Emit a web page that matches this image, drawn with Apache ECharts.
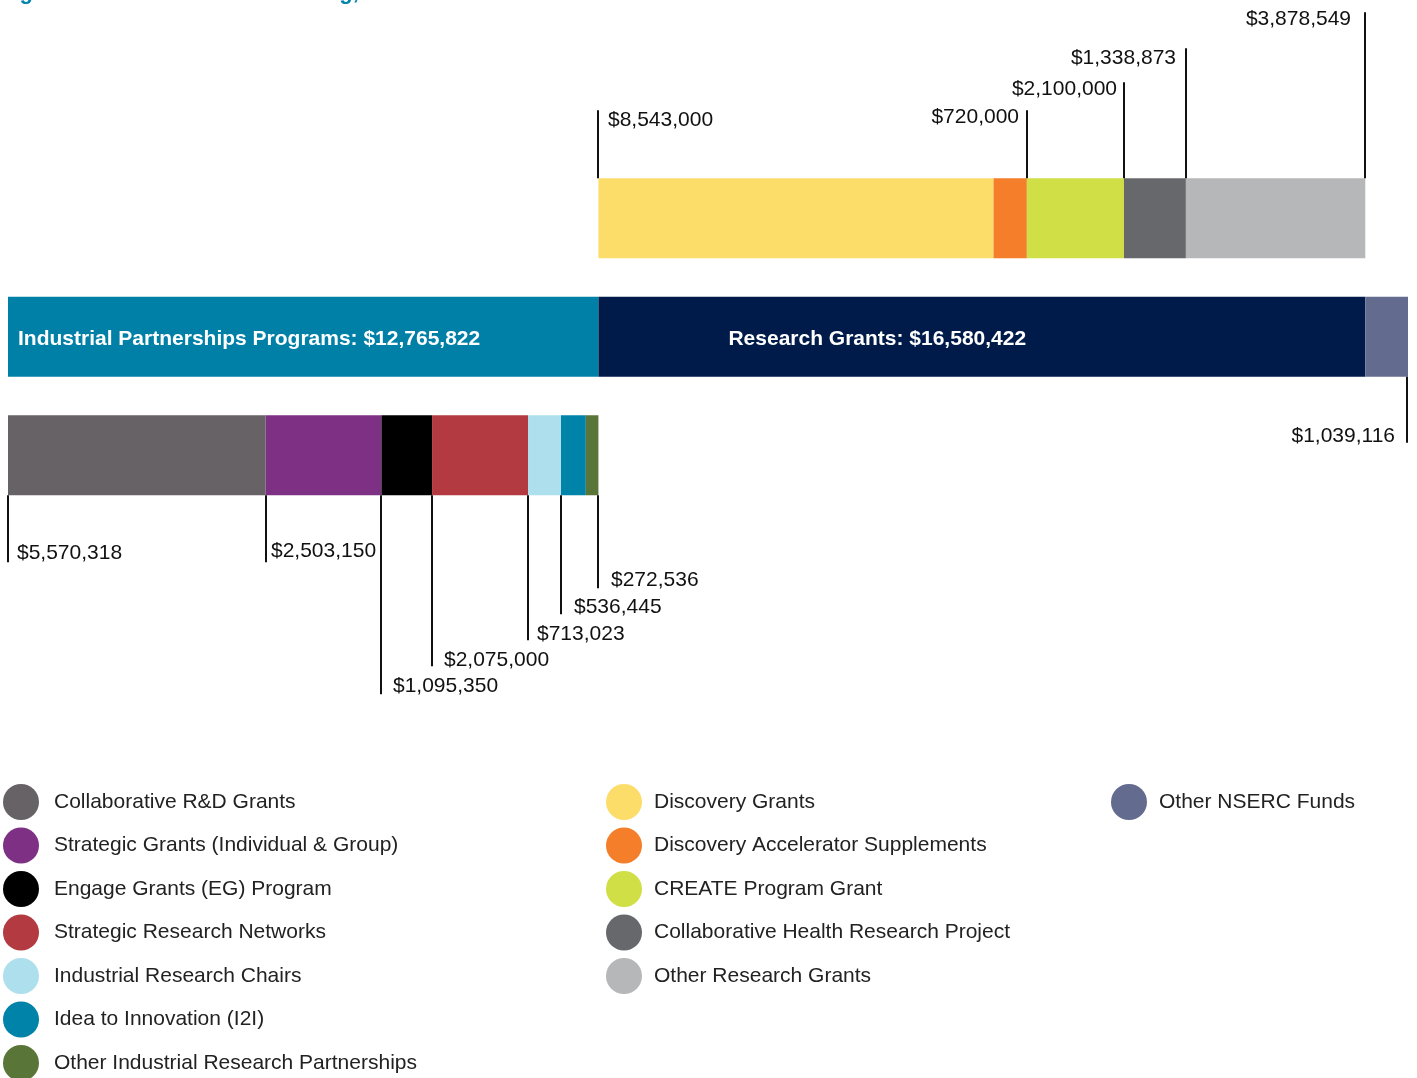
<!DOCTYPE html>
<html>
<head>
<meta charset="utf-8">
<script src="https://cdn.jsdelivr.net/npm/echarts@6/dist/echarts.min.js"></script>
<style>html,body{margin:0;padding:0;background:#fff;}#chart{width:1417px;height:1078px;}</style>
</head>
<body>
<div id="chart"></div>
<script>
// ---- data ----
const rowCategories = ['Research Grants detail', 'Total', 'Industrial Partnerships detail'];

const industrialNames = ['Collaborative R&D Grants', 'Strategic Grants (Individual & Group)', 'Engage Grants (EG) Program',
  'Strategic Research Networks', 'Industrial Research Chairs', 'Idea to Innovation (I2I)', 'Other Industrial Research Partnerships'];
const industrialValues = [5570318, 2503150, 1095350, 2075000, 713023, 536445, 272536];

const researchNames = ['Discovery Grants', 'Discovery Accelerator Supplements', 'CREATE Program Grant',
  'Collaborative Health Research Project', 'Other Research Grants'];
const researchValues = [8543000, 720000, 2100000, 1338873, 3878549];

const totalNames = ['Industrial Partnerships Programs', 'Research Grants', 'Other NSERC Funds'];
const totalValues = [12765822, 16580422, 1039116];

// ---- styles ----
const industrialColors = ['#676265', '#7E3085', '#000000', '#B33A41', '#ADDFEC', '#0083A9', '#5A7538'];
const researchColors = ['#FDDD6A', '#F47E2A', '#CFDF45', '#66686C', '#B6B7B8'];
const totalColors = ['#0080A7', '#001B49', '#636B8E'];
const FONT = '"Liberation Sans", Arial, Helvetica, sans-serif';

// leader layout: [line length px, text side ('r'/'l'), edge ('start'|'end'), text gap px, text dy px]
const researchLeaders = [[68, 'r', 'start', 10, 10], [68, 'l', 'end', 8, 7], [96, 'l', 'end', 7, 7], [130, 'l', 'end', 10, 10], [166, 'l', 'end', 14, 7]];
const industrialLeaders = [[67, 'r', 'start', 9, -9], [67, 'r', 'start', 5, -11], [199, 'r', 'start', 12, -8], [171, 'r', 'start', 12, -6],
  [145, 'r', 'start', 9, -6], [119, 'r', 'start', 13, -7], [93, 'r', 'end', 13, -8]];
const nsercLeader = [66, 'l', 'end', 12, -7];

function fmt(v) { return '$' + v.toLocaleString('en-US'); }

const series = [];
// transparent offset for the research detail row
series.push({ name: 'offset', type: 'bar', stack: 's', barWidth: 80, silent: true,
  itemStyle: { color: 'rgba(0,0,0,0)' }, data: [totalValues[0], '-', '-'] });
// Industrial Partnerships total (middle row)
series.push({ name: totalNames[0], type: 'bar', stack: 's', barWidth: 80, itemStyle: { color: totalColors[0] },
  label: { show: true, position: 'insideLeft', distance: 10, offset: [0, 2], color: '#fff', fontWeight: 'bold', fontSize: 21, fontFamily: FONT,
    formatter: p => totalNames[0] + ': ' + fmt(p.value) },
  data: ['-', totalValues[0], '-'] });
industrialNames.forEach((n, i) => series.push({ name: n, type: 'bar', stack: 's', barWidth: 80,
  itemStyle: { color: industrialColors[i] }, data: ['-', '-', industrialValues[i]] }));
researchNames.forEach((n, i) => series.push({ name: n, type: 'bar', stack: 's', barWidth: 80,
  itemStyle: { color: researchColors[i] }, data: [researchValues[i], '-', '-'] }));
series.push({ name: totalNames[1], type: 'bar', stack: 's', barWidth: 80, itemStyle: { color: totalColors[1] },
  label: { show: true, position: 'insideLeft', distance: 130, offset: [0, 2], color: '#fff', fontWeight: 'bold', fontSize: 21, fontFamily: FONT,
    formatter: p => totalNames[1] + ': ' + fmt(p.value) },
  data: ['-', totalValues[1], '-'] });
series.push({ name: totalNames[2], type: 'bar', stack: 's', barWidth: 80, itemStyle: { color: totalColors[2] },
  data: ['-', totalValues[2], '-'] });

// annotation data: [edgeValue, rowIndex, length, side, direction(-1 up / 1 down), valueForLabel, gap, dy]
const ann = [];
function pushAnn(edge, row, L, dir, v) {
  ann.push([edge, row, L[0], L[1] === 'r' ? 1 : -1, dir, v, L[3], L[4]]);
}
let acc = totalValues[0];
researchValues.forEach((v, i) => {
  const L = researchLeaders[i];
  pushAnn(L[2] === 'start' ? acc : acc + v, 0, L, -1, v);
  acc += v;
});
acc = 0;
industrialValues.forEach((v, i) => {
  const L = industrialLeaders[i];
  pushAnn(L[2] === 'start' ? acc : acc + v, 2, L, 1, v);
  acc += v;
});
pushAnn(totalValues[0] + totalValues[1] + totalValues[2], 1, nsercLeader, 1, totalValues[2]);

series.push({
  type: 'custom', name: 'leaders', silent: true, z: 10, clip: false,
  encode: { x: 0, y: 1 },
  data: ann,
  renderItem: function (params, api) {
    const cs = params.coordSys;
    const pt = api.coord([api.value(0), api.value(1)]);
    let x = Math.min(pt[0], cs.x + cs.width - 1);
    x = Math.round(x);
    const len = api.value(2), side = api.value(3), dir = api.value(4);
    const gap = api.value(6), dy = api.value(7);
    const y0 = pt[1] + dir * 40;
    const y1 = y0 + dir * len;
    return { type: 'group', children: [
      { type: 'line', shape: { x1: x, y1: y0, x2: x, y2: y1 }, style: { stroke: '#111', lineWidth: 2 } },
      { type: 'text', style: { text: fmt(api.value(5)), x: x + side * gap, y: y1 + dy,
          align: side > 0 ? 'left' : 'right', verticalAlign: 'middle',
          font: '21px ' + FONT, fill: '#111' } }
    ]};
  }
});

const legendBase = { orient: 'vertical', icon: 'circle', itemHeight: 36, itemGap: 7.5, height: 330,
  selectedMode: false, top: 779, textStyle: { fontSize: 21, color: '#222', fontFamily: FONT } };

const option = {
  animation: false,
  backgroundColor: '#fff',
  grid: { left: 8, width: 1400, top: 159, height: 355.5 },
  xAxis: { type: 'value', min: 0, max: 30270000, show: false },
  yAxis: { type: 'category', data: rowCategories, inverse: true, show: false },
  legend: [
    Object.assign({}, legendBase, { left: -2, itemWidth: 56, data: industrialNames }),
    Object.assign({}, legendBase, { left: 601, itemWidth: 50, data: researchNames }),
    Object.assign({}, legendBase, { left: 1106, itemWidth: 50, data: [totalNames[2]] })
  ],
  graphic: [{ type: 'text', left: 0, top: -18, silent: true,
    style: { text: 'Figure 4: Total of NSERC Funding, 2012\u20132013', font: 'bold 22px ' + FONT, fill: '#0085AD' } }],
  series: series
};

const chart = echarts.init(document.getElementById('chart'), null, { renderer: 'canvas' });
chart.setOption(option);
</script>
</body>
</html>
